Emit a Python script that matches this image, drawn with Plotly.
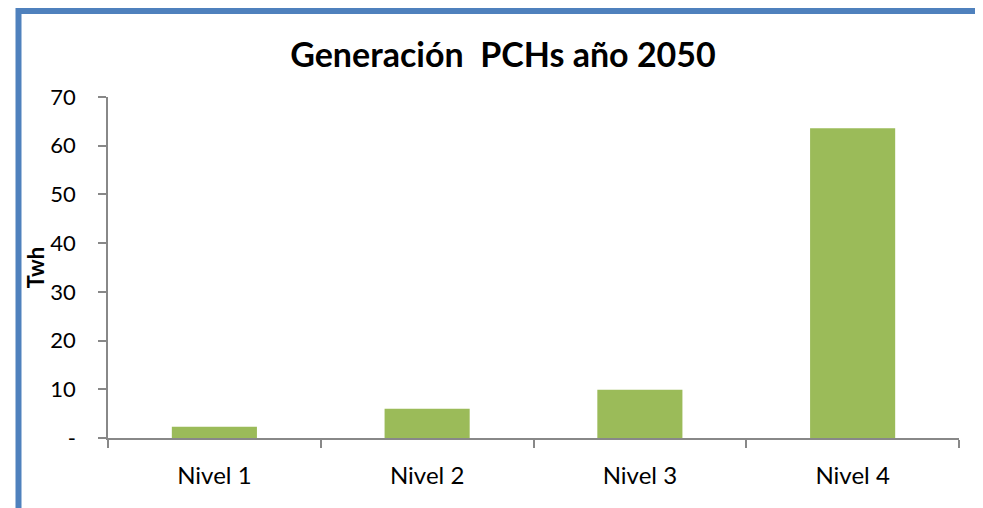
import plotly.graph_objects as go

categories = ["Nivel 1", "Nivel 2", "Nivel 3", "Nivel 4"]
values = [2.3, 6.0, 9.9, 63.6]
y_tickvals = [0, 10, 20, 30, 40, 50, 60, 70]
y_ticktext = ["-", "10", "20", "30", "40", "50", "60", "70"]

# page is offset by the 8px body margin; figure coords = page coords - 8
W, H = 975, 500
L, R, T, B = 100, 24, 89, 70
pw, ph = W - L - R, H - T - B

def px_x(p):
    return (p - L) / pw

def px_y(p):
    return (H - B - p) / ph

FONT = "Lato, Open Sans, sans-serif"

fig = go.Figure(go.Bar(
    x=categories, y=values, marker=dict(color="#9BBB59", line=dict(width=0)),
    width=0.4,
))

fig.update_layout(
    width=W, height=H,
    margin=dict(l=L, r=R, t=T, b=B),
    paper_bgcolor="white", plot_bgcolor="white",
    showlegend=False,
    title=dict(text="<b>Generación  PCHs año 2050</b>", x=495 / W, xanchor="center",
               y=1 - 47 / H, yanchor="middle",
               font=dict(family=FONT, size=34, color="black")),
    font=dict(family=FONT, color="black"),
)

fig.update_xaxes(
    type="category", showline=True, linecolor="#888888", linewidth=1.5,
    ticks="outside", tickson="boundaries", ticklen=8, tickcolor="#888888", tickwidth=1.5,
    tickfont=dict(size=24, family=FONT, color="black"),
    showgrid=False, zeroline=False, ticklabelstandoff=15,
)
fig.update_yaxes(
    range=[0, 70], tickvals=y_tickvals, ticktext=y_ticktext,
    showline=True, linecolor="#888888", linewidth=1.5,
    ticks="outside", ticklen=8, tickcolor="#888888", tickwidth=1.5,
    tickfont=dict(size=22, family=FONT, color="black"),
    showgrid=False, zeroline=False, ticklabelstandoff=18,
    title=dict(text="<b>Twh</b>", font=dict(size=22, family=FONT, color="black"), standoff=0),
)

fig.add_shape(type="rect", xref="paper", yref="paper",
              x0=px_x(10.5), x1=px_x(1200), y0=px_y(700), y1=px_y(3),
              line=dict(color="#4F81BD", width=6), fillcolor="rgba(0,0,0,0)", layer="above")

fig.write_html("out.html")
